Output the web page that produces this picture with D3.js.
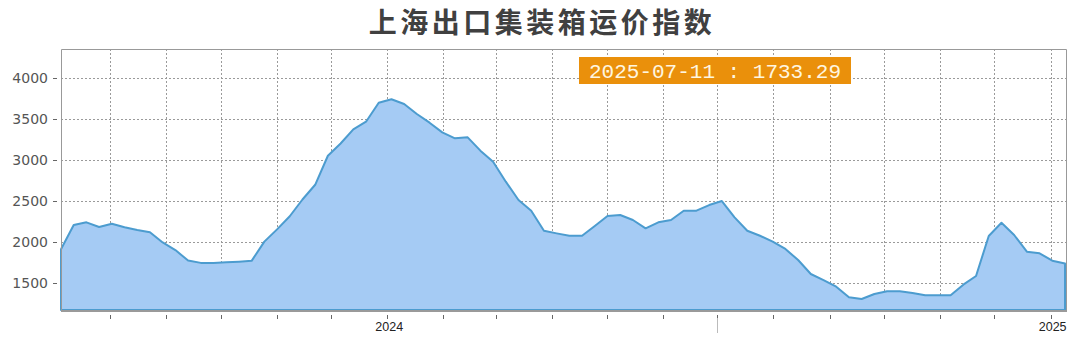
<!DOCTYPE html>
<html>
<head>
<meta charset="utf-8">
<script src="https://cdn.jsdelivr.net/npm/d3@7"></script>
<style>
  body { margin: 0; background: #fff; }
  svg { display: block; }
</style>
</head>
<body>
<svg id="chart" width="1080" height="341"></svg>
<script>
// Chart data (weekly index values)
const title = '上海出口集装箱运价指数';
const values = [
  1906, 2203, 2236, 2179, 2219, 2175, 2142, 2114, 1990, 1897,
  1768, 1740, 1740, 1748, 1755, 1765, 2000, 2150, 2310, 2515,
  2695, 3050, 3200, 3373, 3466, 3698, 3740, 3682, 3560, 3454,
  3336, 3263, 3275, 3112, 2977, 2733, 2509, 2378, 2133, 2101,
  2072, 2072, 2191, 2313, 2325, 2264, 2163, 2236, 2264, 2378,
  2378, 2447, 2496, 2297, 2133, 2072, 2000, 1910, 1775, 1604,
  1530, 1449, 1319, 1298, 1359, 1392, 1392, 1372, 1344, 1344,
  1344, 1474, 1580, 2069, 2231, 2081, 1877, 1857, 1767, 1733.29
];
const lastLabel = '2025-07-11';
const yTicks = [1500, 2000, 2500, 3000, 3500, 4000];
const yDomain = [1164, 4355];
// time axis as printed under the chart
const axisStart = '2023-07-05';
const axisEnd = '2025-01-10';
const yearLabels = ['2024', '2025'];
const midMark = '2024-07-01';

const margin = { top: 49, right: 13, bottom: 31, left: 61 };
const W = 1080, H = 341;
const width = W - margin.left - margin.right;
const height = H - margin.top - margin.bottom;

const svg = d3.select('#chart');
const parse = d3.timeParse('%Y-%m-%d');

// title
svg.append('text')
  .attr('x', W / 2 + 2)
  .attr('y', 33)
  .attr('text-anchor', 'middle')
  .style('font-family', '"Noto Sans CJK SC", sans-serif')
  .style('font-size', '28px')
  .style('font-weight', 700)
  .style('letter-spacing', '3.5px')
  .attr('fill', '#404040')
  .text(title);

const g = svg.append('g').attr('transform', `translate(${margin.left},${margin.top})`);

const x = d3.scaleLinear().domain([0, values.length - 1]).range([0, width - 2]);
const y = d3.scaleLinear().domain(yDomain).range([height, 0]);
const xt = d3.scaleTime().domain([parse(axisStart), parse(axisEnd)]).range([0, width]);
const months = d3.timeMonth.range(parse(axisStart), parse(axisEnd));

// grid
g.selectAll('.hgrid').data(yTicks).enter().append('line')
  .attr('x1', 0).attr('x2', width)
  .attr('y1', d => Math.round(y(d)) + 0.5).attr('y2', d => Math.round(y(d)) + 0.5)
  .attr('stroke', '#9a9a9a').attr('stroke-dasharray', '2,2');
g.selectAll('.vgrid').data(months).enter().append('line')
  .attr('x1', d => Math.round(xt(d)) + 0.5).attr('x2', d => Math.round(xt(d)) + 0.5)
  .attr('y1', 0).attr('y2', height)
  .attr('stroke', '#9a9a9a').attr('stroke-dasharray', '2,2');

// area
const area = d3.area()
  .x((d, i) => x(i))
  .y0(height)
  .y1(d => y(d));
g.append('path')
  .datum(values)
  .attr('d', d => area(d) + 'Z')
  .attr('fill', '#a5cbf4')
  .attr('stroke', '#4c9ccf')
  .attr('stroke-width', 2)
  .attr('stroke-linejoin', 'round');

// frame
g.append('path')
  .attr('d', `M0.5,${height}V0.5H${width - 0.5}V${height}`)
  .attr('fill', 'none').attr('stroke', '#999');
g.append('line')
  .attr('x1', 0).attr('x2', width)
  .attr('y1', height + 1).attr('y2', height + 1)
  .attr('stroke', '#9a9a9a').attr('stroke-width', 2);

// y axis
g.selectAll('.ytick').data(yTicks).enter().append('line')
  .attr('x1', -8).attr('x2', -4)
  .attr('y1', d => Math.round(y(d)) + 0.5).attr('y2', d => Math.round(y(d)) + 0.5)
  .attr('stroke', '#666');
g.selectAll('.ylab').data(yTicks).enter().append('text')
  .attr('x', -13)
  .attr('y', d => y(d) + 5)
  .attr('text-anchor', 'end')
  .style('font-family', '"DejaVu Sans", sans-serif')
  .style('font-size', '14px')
  .attr('fill', '#555')
  .text(d => d);

// x axis
g.selectAll('.xtick').data(months).enter().append('line')
  .attr('x1', d => Math.round(xt(d)) + 0.5).attr('x2', d => Math.round(xt(d)) + 0.5)
  .attr('y1', height + 5).attr('y2', height + 9)
  .attr('stroke', '#666');
g.append('line')
  .attr('x1', Math.round(xt(parse(midMark))) + 0.5).attr('x2', Math.round(xt(parse(midMark))) + 0.5)
  .attr('y1', height + 8).attr('y2', height + 23)
  .attr('stroke', '#bbb');
g.selectAll('.xlab').data(yearLabels).enter().append('text')
  .attr('x', d => xt(parse(d + '-01-01')) + 2)
  .attr('y', height + 21)
  .attr('text-anchor', 'middle')
  .style('font-family', '"Liberation Sans", Arial, sans-serif')
  .style('font-size', '12.5px')
  .attr('fill', '#222')
  .text(d => d);

// last value label
const lbl = svg.append('g').attr('transform', 'translate(579,57)');
lbl.append('rect')
  .attr('width', 272).attr('height', 27)
  .attr('fill', '#ea900b');
lbl.append('text')
  .attr('x', 136).attr('y', 21)
  .attr('text-anchor', 'middle')
  .style('font-family', '"Liberation Mono", "DejaVu Sans Mono", monospace')
  .style('font-size', '21px')
  .attr('fill', '#fff6e0')
  .text(`${lastLabel} : ${d3.format('.2f')(values[values.length - 1])}`);
</script>
</body>
</html>
